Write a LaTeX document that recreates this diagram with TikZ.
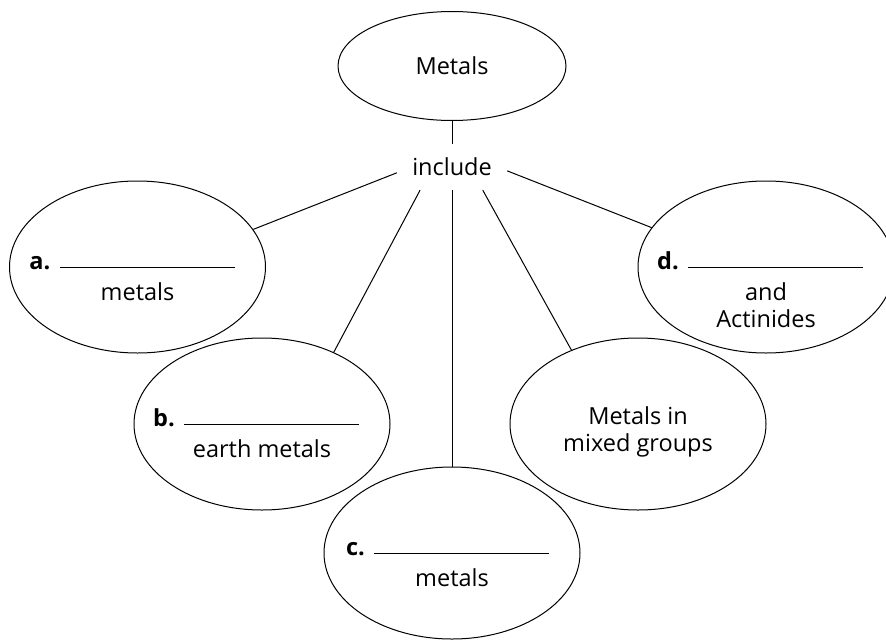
\documentclass[tikz,border=0pt]{standalone}
\usepackage{fontspec}
\setmainfont{Open Sans}
\usepackage{tikz}
\usetikzlibrary{shapes}
\usetikzlibrary{calc}
\tikzstyle{blob}=[draw, ellipse, line width=1pt, minimum width=256pt, minimum height=172pt, inner sep=0pt]
\tikzstyle{topblob}=[blob, minimum width=228pt, minimum height=109pt]
\tikzstyle{spoke}=[line width=1pt]
\newcommand{\blankline}[3]{
 \node[anchor=base east, inner sep=0pt] (#1-lab) at ($(#1.center)+(-87,2)$) {\textbf{#2.}};
 \draw[spoke] ($(#1.center)+(-78,0)$) -- ($(#1.center)+(97,0)$);
 \node[anchor=north, align=center, inner sep=0pt] (#1-txt) at ($(#1.center)+(0,15)$) {#3};
}

\begin{document}
\begin{tikzpicture}[x=1pt, y=-1pt, every node/.style={font=\fontsize{23.5}{27}\selectfont}]
 \useasboundingbox (0,0) rectangle (886,640);
 \node[topblob] (metals) at (452,66) {Metals};
 \node[inner sep=0pt, minimum width=110pt, minimum height=46pt] (inc) at (452,167) {include};
%
 \node[blob] (a) at (137.5,267) {};
 \node[blob] (b) at (262,424) {};
 \node[blob] (c) at (452,553) {};
 \node[blob] (mix) at (638,424) {};
 \node[blob] (d) at (766,267) {};
%
 \draw[spoke] (metals) -- (inc);
 \draw[spoke] (inc.186) -- (a.18.7);
 \draw[spoke] (inc.216) -- (b.45.4);
 \draw[spoke] (inc.south) -- (c.north);
 \draw[spoke] (inc.323) -- (mix.132.9);
 \draw[spoke] (inc.356) -- (d.161.3);
%
 \blankline{a}{a}{metals}
 \blankline{b}{b}{earth metals}
 \blankline{c}{c}{metals}
 \blankline{d}{d}{and\\Actinides}
 \node[align=center, inner sep=0pt] (mix-txt) at ($(mix.center)+(0,8)$) {Metals in\\mixed groups};
\end{tikzpicture}
\end{document}
